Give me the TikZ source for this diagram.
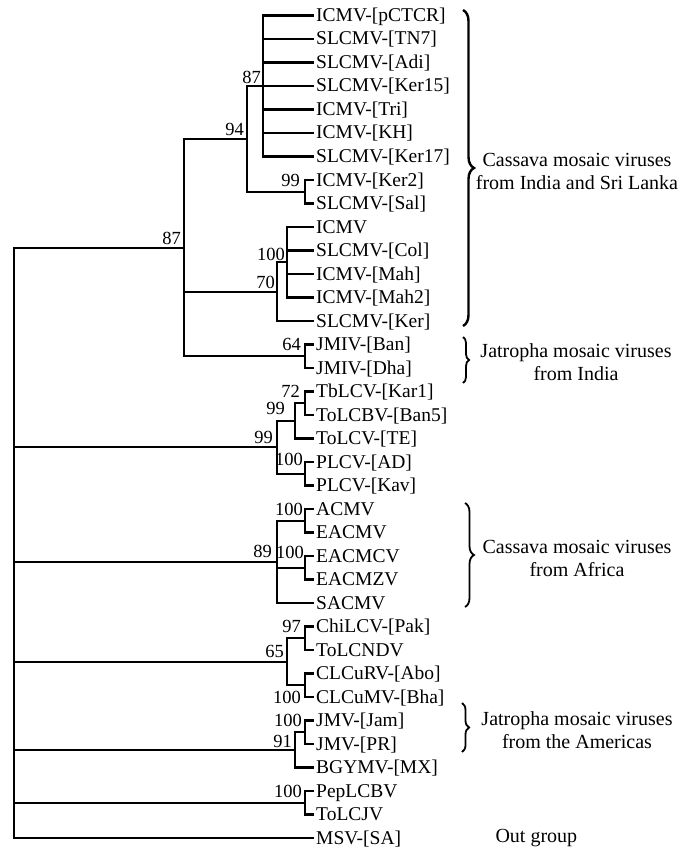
\documentclass[tikz,border=0pt]{standalone}
\usepackage{fontspec}
\setmainfont{Liberation Serif}
\usetikzlibrary{decorations.pathreplacing}
\newcommand\leaffont{\fontsize{19.5}{22}\selectfont}
\newcommand\bootfont{\fontsize{18.5}{22}\selectfont}
\newcommand\grpfont{\fontsize{20}{23}\selectfont}
\begin{document}
\begin{tikzpicture}[x=1pt,y=-1pt,
  tree/.style={line width=2.2pt, line cap=rect},
  leaf/.style={anchor=west, inner xsep=3pt, inner ysep=0pt, text height=16pt, text depth=4pt, font=\leaffont},
  boot/.style={inner sep=0pt, text height=12.5pt, text depth=0pt, font=\bootfont},
  grp/.style={align=center, font=\grpfont},
  brc/.style={decorate, decoration={brace, amplitude=#1}, line width=1.8pt}]
\useasboundingbox (0,0) rectangle (678,853);
\fill[white] (0,0) rectangle (678,853);

% leaves
\node[leaf] (l1) at (313,15.5) {ICMV-[pCTCR]};
\node[leaf] (l2) at (313,39) {SLCMV-[TN7]};
\node[leaf] (l3) at (313,62.5) {SLCMV-[Adi]};
\node[leaf] (l4) at (313,86) {SLCMV-[Ker15]};
\node[leaf] (l5) at (313,109.5) {ICMV-[Tri]};
\node[leaf] (l6) at (313,133) {ICMV-[KH]};
\node[leaf] (l7) at (313,156.5) {SLCMV-[Ker17]};
\node[leaf] (l8) at (313,180) {ICMV-[Ker2]};
\node[leaf] (l9) at (313,203.5) {SLCMV-[Sal]};
\node[leaf] (l10) at (313,227) {ICMV};
\node[leaf] (l11) at (313,250.5) {SLCMV-[Col]};
\node[leaf] (l12) at (313,274) {ICMV-[Mah]};
\node[leaf] (l13) at (313,297.5) {ICMV-[Mah2]};
\node[leaf] (l14) at (313,321) {SLCMV-[Ker]};
\node[leaf] (l15) at (313,344.5) {JMIV-[Ban]};
\node[leaf] (l16) at (313,368) {JMIV-[Dha]};
\node[leaf] (l17) at (313,391.5) {TbLCV-[Kar1]};
\node[leaf] (l18) at (313,415) {ToLCBV-[Ban5]};
\node[leaf] (l19) at (313,438.5) {ToLCV-[TE]};
\node[leaf] (l20) at (313,462) {PLCV-[AD]};
\node[leaf] (l21) at (313,485.5) {PLCV-[Kav]};
\node[leaf] (l22) at (313,509) {ACMV};
\node[leaf] (l23) at (313,532.5) {EACMV};
\node[leaf] (l24) at (313,556) {EACMCV};
\node[leaf] (l25) at (313,579.5) {EACMZV};
\node[leaf] (l26) at (313,603) {SACMV};
\node[leaf] (l27) at (313,626.5) {ChiLCV-[Pak]};
\node[leaf] (l28) at (313,650) {ToLCNDV};
\node[leaf] (l29) at (313,673.5) {CLCuRV-[Abo]};
\node[leaf] (l30) at (313,697) {CLCuMV-[Bha]};
\node[leaf] (l31) at (313,720.5) {JMV-[Jam]};
\node[leaf] (l32) at (313,744) {JMV-[PR]};
\node[leaf] (l33) at (313,767.5) {BGYMV-[MX]};
\node[leaf] (l34) at (313,791) {PepLCBV};
\node[leaf] (l35) at (313,814.5) {ToLCJV};
\node[leaf] (l36) at (313,838) {MSV-[SA]};

% internal nodes
\coordinate (nA) at (263,86);
\coordinate (nB) at (305,191.75);
\coordinate (nC) at (247,138.9);
\coordinate (nD) at (287,262.25);
\coordinate (nE) at (277,291.6);
\coordinate (nF) at (305,356.25);
\coordinate (nG) at (184,247.6);
\coordinate (nH) at (305,403.25);
\coordinate (nI) at (295,420.9);
\coordinate (nJ) at (305,473.75);
\coordinate (nK) at (277,447.3);
\coordinate (nL) at (305,520.75);
\coordinate (nM) at (305,567.75);
\coordinate (nN) at (277,561.9);
\coordinate (nO) at (305,638.25);
\coordinate (nP) at (305,685.25);
\coordinate (nQ) at (287,661.75);
\coordinate (nR) at (305,732.25);
\coordinate (nS) at (295,749.9);
\coordinate (nT) at (305,802.75);
\coordinate (root) at (14,247.6);

% root
\draw[tree] (root) -- (root |- l36);
\foreach \c in {nG,nK,nN,nQ,nS,nT} \draw[tree] (root |- \c) -- (\c);
\draw[tree] (root |- l36) -- (l36.west);

% nG
\draw[tree] (nG |- nC) -- (nG |- nF);
\foreach \c in {nC,nE,nF} \draw[tree] (nG |- \c) -- (\c);
% nC
\draw[tree] (nC |- nA) -- (nC |- nB);
\foreach \c in {nA,nB} \draw[tree] (nC |- \c) -- (\c);
% nA
\draw[tree] (nA |- l1) -- (nA |- l7);
\foreach \c in {l1,l2,l3,l4,l5,l6,l7} \draw[tree] (nA |- \c) -- (\c.west);
% nB
\draw[tree] (nB |- l8) -- (nB |- l9);
\foreach \c in {l8,l9} \draw[tree] (nB |- \c) -- (\c.west);
% nE
\draw[tree] (nE |- nD) -- (nE |- l14);
\draw[tree] (nE |- nD) -- (nD);
\draw[tree] (nE |- l14) -- (l14.west);
% nD
\draw[tree] (nD |- l10) -- (nD |- l13);
\foreach \c in {l10,l11,l12,l13} \draw[tree] (nD |- \c) -- (\c.west);
% nF
\draw[tree] (nF |- l15) -- (nF |- l16);
\foreach \c in {l15,l16} \draw[tree] (nF |- \c) -- (\c.west);
% nK
\draw[tree] (nK |- nI) -- (nK |- nJ);
\foreach \c in {nI,nJ} \draw[tree] (nK |- \c) -- (\c);
% nI
\draw[tree] (nI |- nH) -- (nI |- l19);
\draw[tree] (nI |- nH) -- (nH);
\draw[tree] (nI |- l19) -- (l19.west);
% nH
\draw[tree] (nH |- l17) -- (nH |- l18);
\foreach \c in {l17,l18} \draw[tree] (nH |- \c) -- (\c.west);
% nJ
\draw[tree] (nJ |- l20) -- (nJ |- l21);
\foreach \c in {l20,l21} \draw[tree] (nJ |- \c) -- (\c.west);
% nN
\draw[tree] (nN |- nL) -- (nN |- l26);
\foreach \c in {nL,nM} \draw[tree] (nN |- \c) -- (\c);
\draw[tree] (nN |- l26) -- (l26.west);
% nL, nM
\draw[tree] (nL |- l22) -- (nL |- l23);
\foreach \c in {l22,l23} \draw[tree] (nL |- \c) -- (\c.west);
\draw[tree] (nM |- l24) -- (nM |- l25);
\foreach \c in {l24,l25} \draw[tree] (nM |- \c) -- (\c.west);
% nQ
\draw[tree] (nQ |- nO) -- (nQ |- nP);
\foreach \c in {nO,nP} \draw[tree] (nQ |- \c) -- (\c);
\draw[tree] (nO |- l27) -- (nO |- l28);
\foreach \c in {l27,l28} \draw[tree] (nO |- \c) -- (\c.west);
\draw[tree] (nP |- l29) -- (nP |- l30);
\foreach \c in {l29,l30} \draw[tree] (nP |- \c) -- (\c.west);
% nS
\draw[tree] (nS |- nR) -- (nS |- l33);
\draw[tree] (nS |- nR) -- (nR);
\draw[tree] (nS |- l33) -- (l33.west);
\draw[tree] (nR |- l31) -- (nR |- l32);
\foreach \c in {l31,l32} \draw[tree] (nR |- \c) -- (\c.west);
% nT
\draw[tree] (nT |- l34) -- (nT |- l35);
\foreach \c in {l34,l35} \draw[tree] (nT |- \c) -- (\c.west);

% bootstrap values
\node[boot, anchor=south east] (bA) at ([xshift=-2pt,yshift=2pt]nA) {87};
\node[boot, anchor=south east] (bC) at ([xshift=-3pt,yshift=3pt]nC) {94};
\node[boot, anchor=east] (bB) at ([xshift=-5pt]nB |- l8) {99};
\node[boot, anchor=south east] (bG) at ([xshift=-3pt,yshift=3pt]nG) {87};
\node[boot, anchor=south east] (bD) at ([xshift=-2pt,yshift=2pt]nD) {100};
\node[boot, anchor=south east] (bE) at ([xshift=-2pt,yshift=3pt]nE) {70};
\node[boot, anchor=east] (bF) at ([xshift=-4pt]nF |- l15) {64};
\node[boot, anchor=east] (bH) at ([xshift=-5pt]nH |- l17) {72};
\node[boot, anchor=south east] (bI) at ([xshift=-10pt,yshift=6pt]nI) {99};
\node[boot, anchor=south east] (bK) at ([xshift=-4pt,yshift=4pt]nK) {99};
\node[boot, anchor=east] (bJ) at ([xshift=-2pt,yshift=3pt]nJ |- l20) {100};
\node[boot, anchor=east] (bL) at ([xshift=-2pt]nL |- l22) {100};
\node[boot, anchor=east] (bM) at ([xshift=-1pt,yshift=4pt]nM |- l24) {100};
\node[boot, anchor=south east] (bN) at ([xshift=-5pt,yshift=4pt]nN) {89};
\node[boot, anchor=east] (bO) at ([xshift=-4pt]nO |- l27) {97};
\node[boot, anchor=south east] (bQ) at ([xshift=-3pt,yshift=4pt]nQ) {65};
\node[boot, anchor=east] (bP) at ([xshift=-4pt]nP |- l30) {100};
\node[boot, anchor=east] (bR) at ([xshift=-3pt]nR |- l31) {100};
\node[boot, anchor=south east] (bS) at ([xshift=-3pt,yshift=2pt]nS) {91};
\node[boot, anchor=east] (bT) at ([xshift=-3pt]nT |- l34) {100};

% braces
\draw[brc=11pt, line width=2.4pt] (463,10) -- (463,326);
\draw[brc=6pt] (463,337) -- (463,383);
\draw[brc=9pt] (465,503) -- (465,607);
\draw[brc=7pt] (462,703) -- (462,752);

% group labels
\node[grp] (g1) at (577,171.5) {Cassava mosaic viruses\\from India and Sri Lanka};
\node[grp] (g2) at (576,362.5) {Jatropha mosaic viruses\\from India};
\node[grp] (g3) at (577,558.5) {Cassava mosaic viruses\\from Africa};
\node[grp] (g4) at (577,730) {Jatropha mosaic viruses\\from the Americas};
\node[anchor=west, font=\grpfont] (g5) at (492,838) {Out group};
\end{tikzpicture}
\end{document}
